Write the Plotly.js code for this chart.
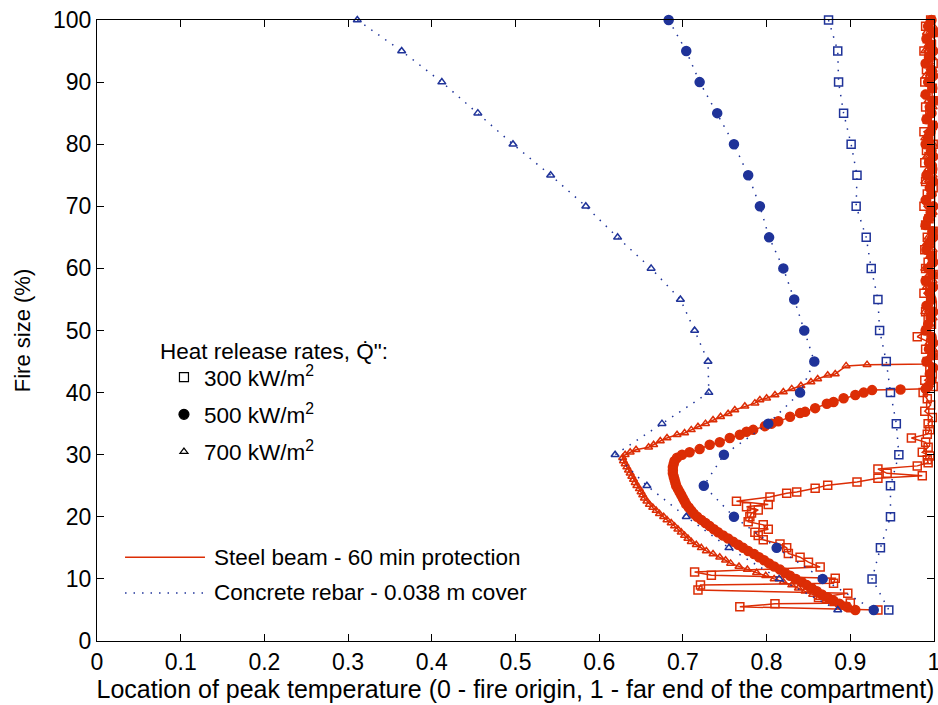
<!DOCTYPE html>
<html>
<head>
<meta charset="utf-8">
<script src="https://cdn.plot.ly/plotly-3.0.1.min.js"></script>
<style>html,body{margin:0;padding:0;background:#fff;}#chart{width:938px;height:705px;}</style>
</head>
<body>
<div id="chart"></div>
<script>
// ---------- Concrete rebar (0.038 m cover), fire size every 5 % ----------
var rebarFireSize = [100,95,90,85,80,75,70,65,60,55,50,45,40,35,30,25,20,15,10,5];
var rebar300 = [0.874,0.885,0.886,0.892,0.901,0.908,0.907,0.919,0.925,0.933,0.935,0.943,0.948,0.955,0.958,0.948,0.948,0.936,0.926,0.946];
var rebar500 = [0.683,0.704,0.720,0.741,0.761,0.778,0.792,0.803,0.820,0.833,0.845,0.857,0.840,0.802,0.749,0.725,0.761,0.812,0.867,0.928];
var rebar700 = [0.311,0.364,0.412,0.455,0.497,0.542,0.584,0.622,0.662,0.697,0.714,0.730,0.731,0.675,0.619,0.657,0.704,0.755,0.815,0.885];

// ---------- Steel beam (60 min protection) ----------
var steel300Y = [100,99,98,97,96,95,94,93,92,91,90,89,88,87,86,85,84,83,82,81,80,79,78,77,76,75,74,73,72,71,70,69,68,67,66,65,64,63,62,61,60,59,58,57,56,55,54,53,52,51,50,49,48,47,46,45,44,43,42,41,40,39,38,37,36,35,
  34.0,33.3,32.7,32.0,31.2,30.4,29.8,29.2,28.7,28.2,27.7,27.0,26.6,26.2,25.6,25.1,24.6,24.0,23.8,23.2,22.5,22.0,21.6,21.1,20.6,20.0,19.2,18.7,18.0,17.5,17.0,16.3,15.6,15.0,14.1,13.5,12.7,11.9,11.1,10.6,10.1,9.3,9.0,8.2,7.7,7.0,6.1,6.0,5.5,5.0];
var steel300X = [0.996,0.990,0.999,0.992,0.997,0.988,0.994,0.999,0.991,0.996,
  0.989,0.998,0.993,0.999,0.990,0.995,0.992,0.998,0.988,0.996,
  0.999,0.991,0.994,0.989,0.998,0.993,0.990,0.999,0.992,0.996,
  0.988,0.997,0.994,0.990,0.999,0.992,0.996,0.989,0.998,0.993,
  0.990,0.999,0.991,0.995,0.988,0.996,0.998,0.990,0.993,0.997,
  0.991,0.980,0.996,0.990,0.999,0.992,0.995,0.998,0.989,0.999,
  0.987,0.992,0.996,0.989,0.998,0.993,
  0.995,0.992,0.973,0.990,0.993,0.986,0.995,0.992,0.993,0.980,0.933,0.944,0.986,0.933,0.908,0.873,0.858,0.836,0.824,0.804,0.764,0.802,0.776,0.790,0.782,0.780,0.778,0.796,0.802,0.786,0.790,0.796,0.816,0.824,0.826,0.840,0.850,0.864,0.714,0.734,0.882,0.880,0.721,0.718,0.897,0.862,0.900,0.810,0.768,0.933];

var steel500Y = [100,99,98,97,96,95,94,93,92,91,90,89,88,87,86,85,84,83,82,81,80,79,78,77,76,75,74,73,72,71,70,69,68,67,66,65,64,63,62,61,60,59,58,57,56,55,54,53,52,51,50,49,48,47,46,45,44,43,42,41,
  40.6,40.5,40.4,40.0,39.6,39.1,38.5,38.2,37.5,36.9,36.7,36.1,35.4,35.0,34.6,34.0,33.7,33.2,32.7,32.0,31.6,30.9,30.4,30.0,
  29.5,29.0,28.5,28.0,27.5,27.0,26.5,26.0,25.5,25.0,24.5,24.0,23.5,23.0,22.5,22.0,21.5,21.0,20.5,20.0,19.5,19.0,18.5,18.0,17.5,17.0,16.5,16.0,15.5,15.0,14.5,14.0,13.5,13.0,12.5,12.0,11.5,11.0,10.5,10.0,9.5,9.0,8.5,8.0,7.5,7.0,6.5,6.0,5.5,5.0];
var steel500X = [0.997,0.993,0.999,0.991,0.996,0.999,0.994,0.990,0.997,0.999,
  0.993,0.998,0.990,0.999,0.995,0.997,0.991,0.999,0.996,0.993,
  0.990,0.997,0.999,0.994,0.998,0.991,0.999,0.995,0.997,0.990,
  0.999,0.996,0.993,0.990,0.998,0.999,0.994,0.991,0.997,0.999,
  0.993,0.998,0.990,0.999,0.995,0.997,0.991,0.999,0.996,0.993,
  0.990,0.997,0.999,0.994,0.998,0.991,0.999,0.995,0.997,0.993,
  0.990,0.960,0.926,0.916,0.906,0.892,0.880,0.872,0.858,0.846,0.840,0.828,0.814,0.806,0.798,0.784,0.776,0.768,0.756,0.744,0.732,0.720,0.708,0.699,
  0.693,0.690,0.689,0.688,0.688,0.688,0.689,0.690,0.691,0.692,0.694,0.696,0.698,0.700,0.702,0.704,0.707,0.710,0.713,0.717,0.722,0.727,0.732,0.737,0.742,0.748,0.754,0.760,0.766,0.772,0.778,0.785,0.791,0.797,0.803,0.809,0.816,0.822,0.828,0.835,0.842,0.848,0.854,0.860,0.866,0.873,0.880,0.887,0.896,0.906];

var steel700Y = [100,99,98,97,96,95,94,93,92,91,90,89,88,87,86,85,84,83,82,81,80,79,78,77,76,75,74,73,72,71,70,69,68,67,66,65,64,63,62,61,60,59,58,57,56,55,54,53,52,51,50,49,48,47,46,45,
  44.6,44.5,44.3,43.0,42.8,42.2,41.7,41.1,40.6,40.1,39.6,39.1,38.8,38.3,37.8,37.2,36.6,36.1,35.6,35.0,34.5,34.0,33.5,33.2,32.7,32.2,31.6,31.2,30.8,30.4,30.0,
  29.5,29.0,28.5,28.0,27.5,27.0,26.5,26.0,25.5,25.0,24.5,24.0,23.5,23.0,22.5,22.0,21.5,21.0,20.5,20.0,19.5,19.0,18.5,18.0,17.5,17.0,16.5,16.0,15.5,15.0,14.5,14.0,13.5,13.0,12.5,12.0,11.5,11.0,10.5,10.0,9.5,9.0,8.5,8.0,7.5,7.0,6.5,6.0,5.5,5.0];
var steel700X = [0.995,0.999,0.991,0.997,0.993,0.989,0.998,0.994,0.999,0.990,
  0.996,0.998,0.989,0.993,0.999,0.995,0.991,0.998,0.994,0.989,
  0.999,0.996,0.991,0.998,0.993,0.999,0.989,0.995,0.998,0.991,
  0.994,0.999,0.996,0.989,0.998,0.993,0.991,0.999,0.995,0.997,
  0.989,0.994,0.999,0.991,0.996,0.998,0.993,0.989,0.999,0.995,
  0.991,0.998,0.994,0.999,0.996,0.992,
  0.996,0.920,0.895,0.882,0.873,0.861,0.853,0.841,0.830,0.820,0.810,0.800,0.792,0.786,0.774,0.762,0.754,0.745,0.736,0.727,0.718,0.710,0.702,0.693,0.681,0.673,0.665,0.659,0.644,0.637,0.631,
  0.628,0.629,0.631,0.633,0.635,0.637,0.639,0.641,0.643,0.645,0.648,0.650,0.652,0.654,0.657,0.660,0.664,0.668,0.672,0.677,0.681,0.686,0.690,0.694,0.698,0.702,0.706,0.710,0.716,0.722,0.728,0.736,0.744,0.751,0.757,0.767,0.777,0.788,0.799,0.809,0.820,0.830,0.838,0.846,0.855,0.863,0.871,0.880,0.890,0.900];

// ---------- Labels ----------
var xTitle = 'Location of peak temperature (0 - fire origin, 1 - far end of the compartment)';
var yTitle = 'Fire size (%)';
var hrrTitle = 'Heat release rates, Q\u0307":';
var hrrLabels = ['300 kW/m<sup>2</sup>', '500 kW/m<sup>2</sup>', '700 kW/m<sup>2</sup>'];
var steelLabel = 'Steel beam - 60 min protection';
var rebarLabel = 'Concrete rebar - 0.038 m cover';

var RED = '#dc2d05';
var BLUE = '#1f3399';
var FONT = 'Liberation Sans, Arial, sans-serif';

function steelTrace(x, y, symbol, size) {
  return {x: x, y: y, type: 'scatter', mode: 'lines+markers', showlegend: false, cliponaxis: false,
    line: {color: RED, width: 1.5},
    marker: {symbol: symbol, size: size, color: RED, line: {color: RED, width: 1.5}}};
}
function rebarTrace(x, symbol, size) {
  return {x: x, y: rebarFireSize, type: 'scatter', mode: 'lines+markers', showlegend: false, cliponaxis: false,
    line: {color: BLUE, width: 1.5, dash: '1.5px,7px'},
    marker: {symbol: symbol, size: size, color: BLUE, line: {color: BLUE, width: 1.5}}};
}
function legendTrace(name, symbol, size, grp) {
  return {x: [null], y: [null], type: 'scatter', mode: 'markers', name: name, legendgroup: grp,
    marker: {symbol: symbol, size: size, color: '#000', line: {color: '#000', width: 1.2}}};
}

var data = [
  steelTrace(steel300X, steel300Y, 'square-open', 8),
  steelTrace(steel500X, steel500Y, 'circle', 9),
  steelTrace(steel700X, steel700Y, 'triangle-up-open', 7),
  rebarTrace(rebar300, 'square-open', 8),
  rebarTrace(rebar500, 'circle', 9),
  rebarTrace(rebar700, 'triangle-up-open', 7),
  legendTrace(hrrLabels[0], 'square-open', 9, 'a'),
  legendTrace(hrrLabels[1], 'circle', 10, 'b'),
  legendTrace(hrrLabels[2], 'triangle-up-open', 7, 'c')
];

var layout = {
  width: 938, height: 705,
  margin: {l: 97, r: 4, t: 20, b: 64},
  paper_bgcolor: '#fff', plot_bgcolor: '#fff',
  font: {family: FONT, size: 22, color: '#000'},
  showlegend: true,
  legend: {x: 0.08, y: 0.459, xanchor: 'left', yanchor: 'top', bgcolor: 'rgba(0,0,0,0)',
    font: {family: FONT, size: 22.5, color: '#000'}, tracegroupgap: 5},
  xaxis: {range: [0, 1], dtick: 0.1, tick0: 0, ticks: 'inside', ticklen: 7, tickcolor: '#000',
    showline: true, linecolor: '#000', linewidth: 1, mirror: 'ticks', showgrid: false, zeroline: false,
    automargin: false, ticklabeloverflow: 'allow', tickfont: {family: FONT, size: 23, color: '#000'},
    title: {text: xTitle, font: {family: FONT, size: 25, color: '#000'}, standoff: 4}},
  yaxis: {range: [0, 100], dtick: 10, tick0: 0, ticks: 'inside', ticklen: 7, tickcolor: '#000',
    showline: true, linecolor: '#000', linewidth: 1, mirror: 'ticks', showgrid: false, zeroline: false,
    automargin: false, ticklabeloverflow: 'allow', tickfont: {family: FONT, size: 23, color: '#000'},
    title: {text: yTitle, font: {family: FONT, size: 22, color: '#000'}, standoff: 16}},
  shapes: [
    {type: 'line', xref: 'paper', yref: 'paper', x0: 0.0335, x1: 0.129, y0: 0.135, y1: 0.135, line: {color: RED, width: 1.5}},
    {type: 'line', xref: 'paper', yref: 'paper', x0: 0.0335, x1: 0.129, y0: 0.0773, y1: 0.0773, line: {color: BLUE, width: 1.5, dash: '1.5px,7px'}}
  ],
  annotations: [
    {xref: 'paper', yref: 'paper', x: 0.0729, y: 0.4665, xanchor: 'left', yanchor: 'middle', showarrow: false, text: hrrTitle, font: {family: FONT, size: 22.5, color: '#000'}},
    {xref: 'paper', yref: 'paper', x: 0.137, y: 0.135, xanchor: 'left', yanchor: 'middle', showarrow: false, text: steelLabel, font: {family: FONT, size: 22.5, color: '#000'}},
    {xref: 'paper', yref: 'paper', x: 0.137, y: 0.0773, xanchor: 'left', yanchor: 'middle', showarrow: false, text: rebarLabel, font: {family: FONT, size: 22.5, color: '#000'}}
  ]
};

Plotly.newPlot('chart', data, layout, {displayModeBar: false, staticPlot: true});
</script>
</body>
</html>
